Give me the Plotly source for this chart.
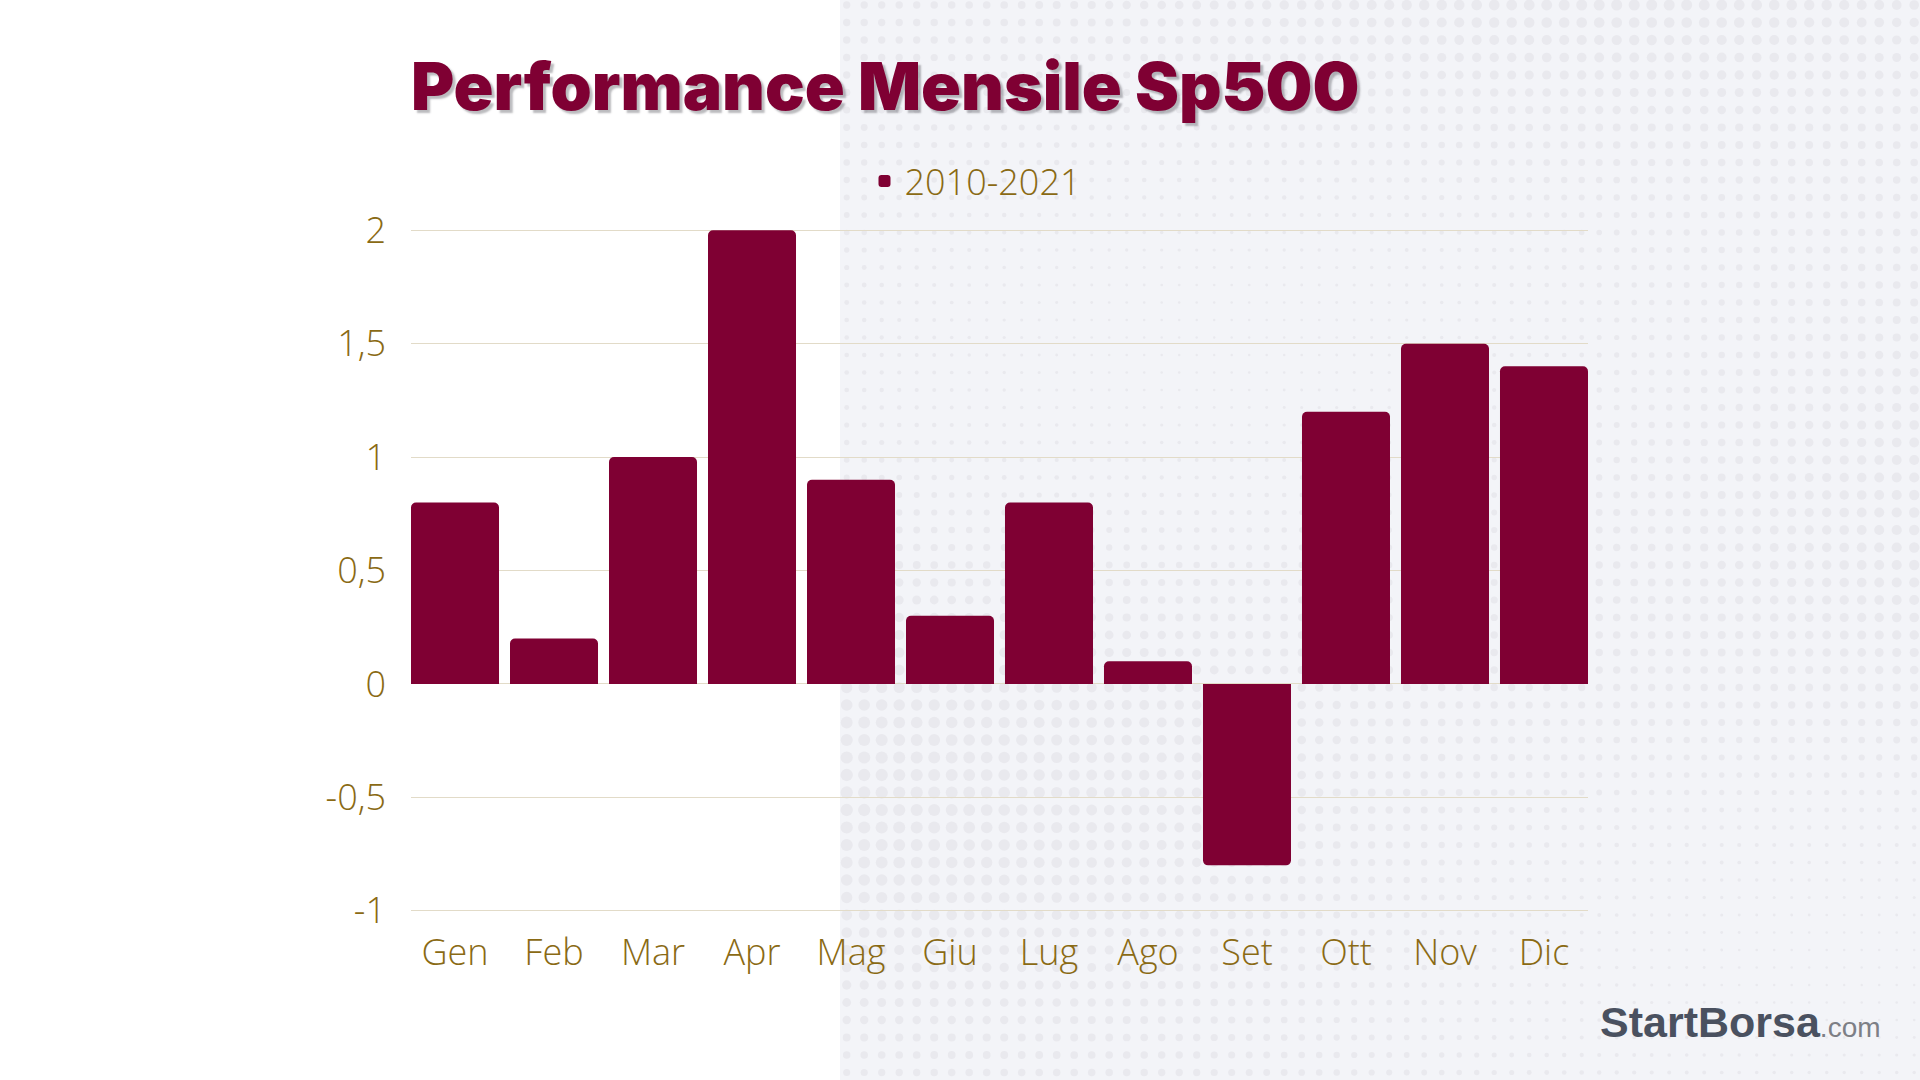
import base64
import math
import plotly.graph_objects as go

# ---- data ----
months = ["Gen", "Feb", "Mar", "Apr", "Mag", "Giu", "Lug", "Ago", "Set", "Ott", "Nov", "Dic"]
performance = [0.8, 0.2, 1.0, 2.0, 0.9, 0.3, 0.8, 0.1, -0.8, 1.2, 1.5, 1.4]
series_name = "2010-2021"
y_tickvals = [-1, -0.5, 0, 0.5, 1, 1.5, 2]
y_ticktext = ["-1", "-0,5", "0", "0,5", "1", "1,5", "2"]

BAR = "#7f0033"
GOLD = "#8a6a14"
GRID = "#e2dbc8"

# ---- decorative halftone background (right panel) ----
W, H = 1080, 1080
step = 17.5
circles = []
ny = int(H / step) + 2
nx = int(W / step) + 2
for j in range(ny):
    cy = 5 + j * step
    for i in range(nx):
        cx = 6.7 + i * step
        px = (cx + 840) / 1920.0
        py = cy / 1080.0
        v = 0.5 + 0.25 * math.sin(py * 9.0 + px * 3.0) + 0.25 * math.cos(px * 7.0 - py * 4.0)
        r = 1.2 + 5.0 * max(0.0, min(1.0, v))
        circles.append(f'<circle cx="{cx:.1f}" cy="{cy:.1f}" r="{r:.2f}"/>')
svg = (f'<svg xmlns="http://www.w3.org/2000/svg" width="{W}" height="{H}" viewBox="0 0 {W} {H}">'
       f'<rect width="{W}" height="{H}" fill="#f3f4f8"/>'
       f'<g fill="#e9e9ee">{"".join(circles)}</g></svg>')
svg_uri = "data:image/svg+xml;base64," + base64.b64encode(svg.encode()).decode()

# plot area in pixels (slightly padded so edge gridlines are drawn)
L, R, T, B = 411, 1588, 228, 913
pw, ph = R - L, B - T

GAP = 0.111
n = len(months)

fig = go.Figure()
fig.add_trace(go.Bar(
    x=months, y=performance, name=series_name,
    marker=dict(color=BAR, line=dict(width=0)),
    showlegend=True,
))

fig.update_layout(
    width=1920, height=1080,
    margin=dict(l=L, r=1920 - R, t=T, b=1080 - B, pad=0),
    paper_bgcolor="white",
    plot_bgcolor="rgba(0,0,0,0)",
    bargap=GAP,
    barcornerradius=5,
    font=dict(family="Open Sans", color=GOLD),
    title=dict(
        text="Performance Mensile Sp500",
        font=dict(family="Inter", size=66, weight=900, color=BAR,
                  shadow="3px 3px 2px rgba(60,60,70,0.35)"),
        xref="paper", x=0, xanchor="left",
        yref="container", y=1 - 87 / 1080, yanchor="middle",
    ),
    legend=dict(
        orientation="h",
        xref="paper", x=(975 - L) / pw, xanchor="center",
        yref="paper", y=(B - 181) / ph, yanchor="middle",
        font=dict(family="Open Sans", size=36, weight=300, color=GOLD),
        bgcolor="rgba(0,0,0,0)",
        itemwidth=30,
    ),
    xaxis=dict(
        range=[-(1 - GAP) / 2, (n - 1) + (1 - GAP) / 2],
        showgrid=False, showline=False, ticks="", zeroline=False,
        tickfont=dict(family="Open Sans", size=36, weight=300, color=GOLD),
        ticklabelstandoff=15,
    ),
    yaxis=dict(
        range=[-1.01, 2.01], tickvals=y_tickvals, ticktext=y_ticktext,
        showgrid=True, gridcolor=GRID, gridwidth=1,
        zeroline=True, zerolinecolor=GRID, zerolinewidth=1,
        showline=False, ticks="",
        tickfont=dict(family="Open Sans", size=36, weight=300, color=GOLD),
        ticklabelstandoff=24,
    ),
    images=[dict(
        source=svg_uri, xref="paper", yref="paper",
        x=(840 - L) / pw, y=B / ph, sizex=1080 / pw, sizey=1080 / ph,
        xanchor="left", yanchor="top", sizing="stretch", layer="below",
    )],
    annotations=[dict(
        text="<b>StartBorsa</b><span style='font-size:28px;color:#7d7f86'>.com</span>",
        xref="paper", yref="paper",
        x=(1883 - L) / pw, y=(B - 1022) / ph,
        xanchor="right", yanchor="middle", showarrow=False,
        font=dict(family="Liberation Sans", size=43, color="#4a5160"),
    )],
)

fig.write_html("out.html")
